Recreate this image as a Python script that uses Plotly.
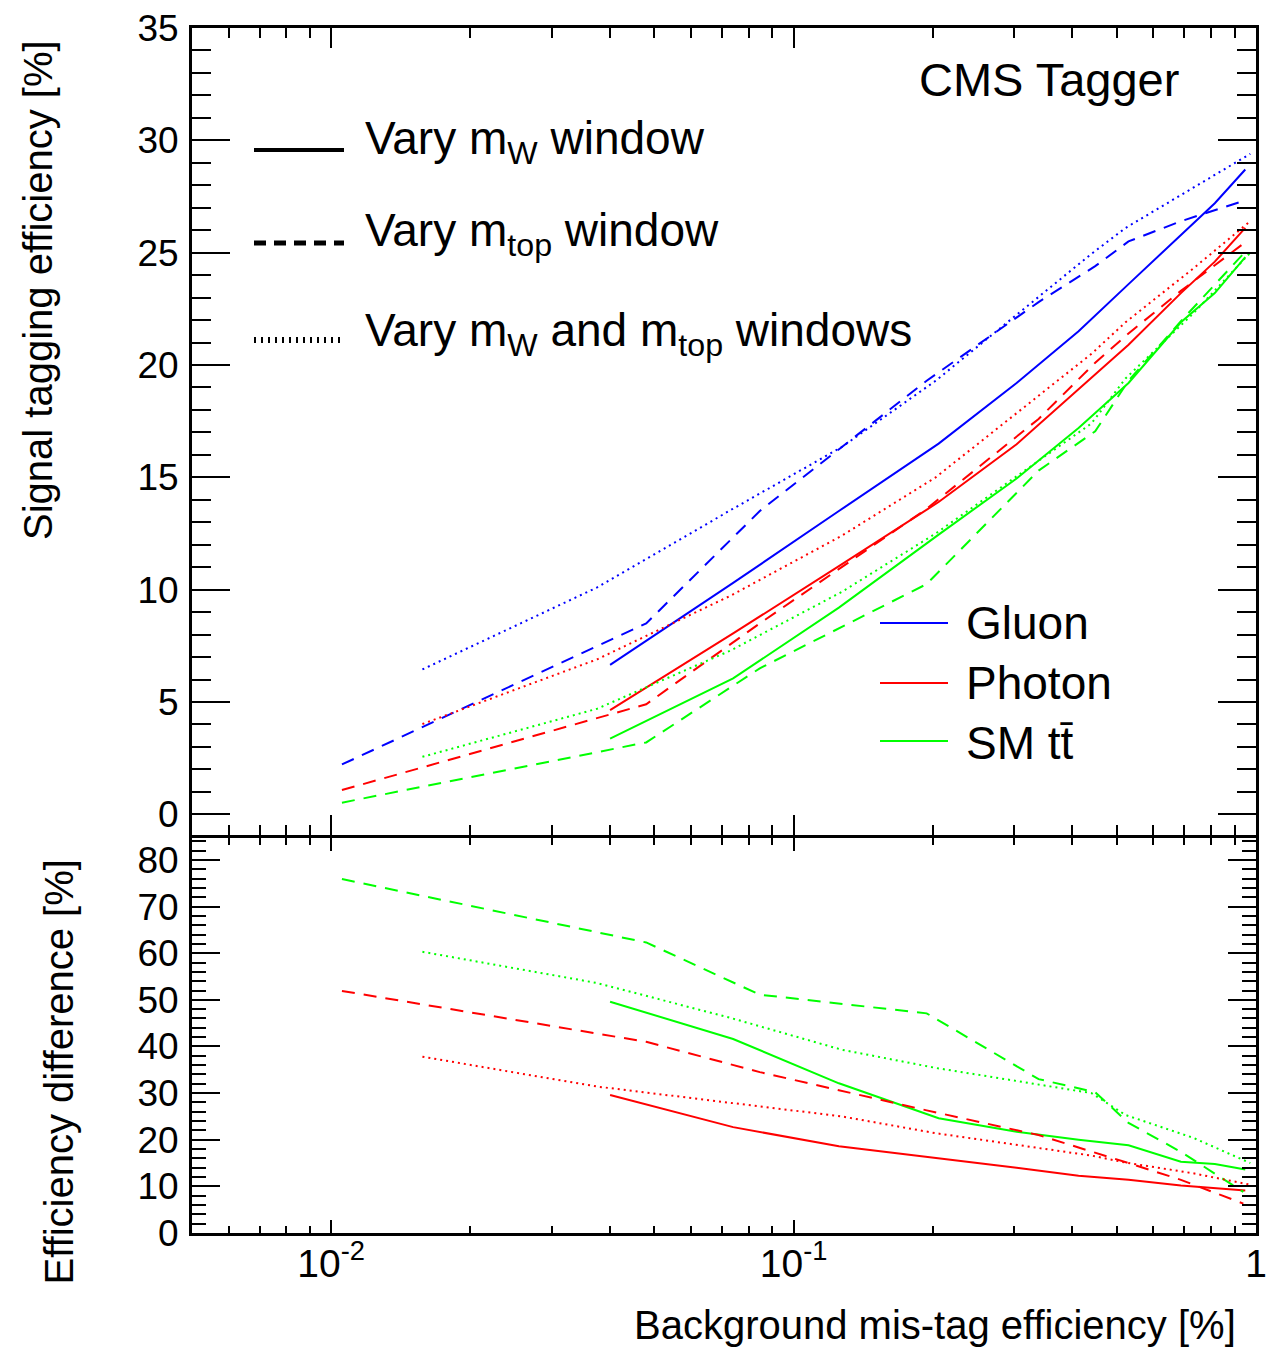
import plotly.graph_objects as go

# ---------------- data ----------------
# Vary m_W window (solid)
x_mw = [0.0401, 0.0740, 0.1253, 0.2059, 0.3036, 0.4133, 0.5301, 0.6880, 0.8146, 0.9480]
gluon_mw = [6.65, 10.3, 13.5, 16.5, 19.2, 21.5, 23.6, 25.8, 27.2, 28.7]
photon_mw = [4.64, 8.05, 11.05, 13.9, 16.47, 18.9, 20.9, 23.2, 24.6, 26.1]
ttbar_mw = [3.37, 6.05, 9.2, 12.45, 14.95, 17.2, 19.2, 21.9, 23.2, 24.8]
diff_photon_mw = [29.6, 22.7, 18.6, 16.1, 14.0, 12.3, 11.4, 10.2, 9.7, 9.1]
diff_ttbar_mw = [49.6, 41.6, 32.1, 24.6, 21.7, 20.0, 18.8, 15.3, 14.8, 13.6]

# Vary m_top window (dashed)
x_mtop = [0.01055, 0.048, 0.0845, 0.194, 0.3387, 0.449, 0.53, 0.688, 0.939]
gluon_mtop = [2.22, 8.5, 13.5, 19.3, 22.8, 24.4, 25.5, 26.4, 27.3]
photon_mtop = [1.08, 4.9, 8.5, 13.6, 17.6, 20.1, 21.4, 23.3, 25.4]
ttbar_mtop = [0.52, 3.2, 6.5, 10.25, 15.3, 17.05, 19.3, 21.95, 24.95]
diff_photon_mtop = [51.9, 41.0, 34.5, 26.3, 21.0, 17.3, 15.0, 11.4, 6.3]
diff_ttbar_mtop = [75.9, 62.3, 51.1, 47.1, 33.0, 30.2, 23.6, 17.4, 8.8]

# Vary m_W and m_top windows (dotted)
x_both = [0.01575, 0.0376, 0.0732, 0.1271, 0.2029, 0.4408, 0.5222, 0.732, 0.972]
gluon_both = [6.45, 10.1, 13.55, 16.35, 19.3, 24.95, 26.1, 27.9, 29.4]
photon_both = [4.02, 6.9, 9.74, 12.4, 15.0, 20.5, 21.9, 24.3, 26.4]
ttbar_both = [2.56, 4.7, 7.3, 9.9, 12.5, 17.4, 19.4, 22.3, 25.0]
diff_photon_both = [37.8, 31.4, 27.9, 25.0, 21.4, 16.6, 15.1, 12.8, 10.35]
diff_ttbar_both = [60.3, 53.6, 46.1, 39.3, 35.4, 30.0, 25.3, 20.4, 15.0]

x_tickvals = [0.01, 0.1, 1]
x_ticktext = ["10<sup>-2</sup>", "10<sup>-1</sup>", "1"]
x_minor = [0.005, 0.006, 0.007, 0.008, 0.009,
           0.02, 0.03, 0.04, 0.05, 0.06, 0.07, 0.08, 0.09,
           0.2, 0.3, 0.4, 0.5, 0.6, 0.7, 0.8, 0.9]

# ---------------- styling ----------------
W, H = 1266, 1347
L, R, T, B = 192, 1256, 28, 1233
SPLIT_TOP = 835     # bottom edge of the upper frame
SPLIT_BOT = 838     # top edge of the lower frame
FONT = "Liberation Sans, Arial, Helvetica, sans-serif"
BLUE, RED, GREEN = "#0000ff", "#ff0000", "#00ff00"
DASH = "13px,9px"
DOT = "2px,4px"
LW = 2


def px(xp):
    return (xp - L) / (R - L)


def py(yp):
    return (B - yp) / (B - T)


fig = go.Figure()


def add(x, y, color, dash, axis):
    fig.add_trace(go.Scatter(x=x, y=y, mode="lines",
                             line=dict(color=color, width=LW, dash=dash),
                             xaxis="x" if axis == 1 else "x2",
                             yaxis="y" if axis == 1 else "y2",
                             showlegend=False, hoverinfo="skip"))


# top panel
add(x_mw, gluon_mw, BLUE, "solid", 1)
add(x_mw, photon_mw, RED, "solid", 1)
add(x_mw, ttbar_mw, GREEN, "solid", 1)
add(x_mtop, gluon_mtop, BLUE, DASH, 1)
add(x_mtop, photon_mtop, RED, DASH, 1)
add(x_mtop, ttbar_mtop, GREEN, DASH, 1)
add(x_both, gluon_both, BLUE, DOT, 1)
add(x_both, photon_both, RED, DOT, 1)
add(x_both, ttbar_both, GREEN, DOT, 1)
# bottom panel
add(x_mw, diff_photon_mw, RED, "solid", 2)
add(x_mw, diff_ttbar_mw, GREEN, "solid", 2)
add(x_mtop, diff_photon_mtop, RED, DASH, 2)
add(x_mtop, diff_ttbar_mtop, GREEN, DASH, 2)
add(x_both, diff_photon_both, RED, DOT, 2)
add(x_both, diff_ttbar_both, GREEN, DOT, 2)

common_x = dict(type="log", range=[-2.30103, 0], showline=True, linewidth=3,
                linecolor="black", mirror="ticks", ticks="inside",
                tickwidth=2, tickcolor="black", showgrid=False, zeroline=False,
                tickmode="array", tickvals=x_tickvals, automargin=False)

common_y = dict(tickmode="linear", tick0=0, ticks="inside", tickwidth=2,
                tickcolor="black", showline=True, linewidth=3,
                linecolor="black", mirror="ticks", showgrid=False,
                zeroline=False, tickfont=dict(size=37, family=FONT),
                ticklabelstandoff=3, automargin=False)

fig.update_layout(
    width=W, height=H, autosize=False,
    paper_bgcolor="white", plot_bgcolor="white",
    margin=dict(l=L, r=W - R, t=T, b=H - B, pad=0, autoexpand=False),
    font=dict(family=FONT, color="black"),
    showlegend=False,
    xaxis=dict(**common_x, anchor="y", matches="x2", showticklabels=False,
               ticklen=20,
               minor=dict(tickmode="array", tickvals=x_minor, ticks="inside",
                          ticklen=10, tickwidth=2, tickcolor="black")),
    xaxis2=dict(**common_x, anchor="y2", ticktext=x_ticktext, ticklen=13,
                tickfont=dict(size=39, family=FONT), ticklabelstandoff=-6,
                ticklabeloverflow="allow",
                minor=dict(tickmode="array", tickvals=x_minor, ticks="inside",
                           ticklen=7, tickwidth=2, tickcolor="black")),
    yaxis=dict(**common_y, domain=[py(SPLIT_TOP), 1], anchor="x",
               range=[-0.92, 35], dtick=5, ticklen=38,
               minor=dict(dtick=1, ticks="inside", ticklen=19, tickwidth=2,
                          tickcolor="black")),
    yaxis2=dict(**common_y, domain=[0, py(SPLIT_BOT)], anchor="x2",
                range=[0, 84.7], dtick=10, ticklen=28,
                minor=dict(dtick=2, ticks="inside", ticklen=14, tickwidth=2,
                           tickcolor="black")),
)

ann = []
shapes = []


def text(s, xp, yp, size, xanchor="left", yanchor="middle", angle=0):
    ann.append(dict(text=s, x=px(xp), y=py(yp), xref="paper", yref="paper",
                    xanchor=xanchor, yanchor=yanchor, showarrow=False,
                    textangle=angle, font=dict(size=size, family=FONT,
                                               color="black")))


def sample(x0, x1, yp, color, dash, width):
    shapes.append(dict(type="line", xref="paper", yref="paper",
                       x0=px(x0), x1=px(x1), y0=py(yp), y1=py(yp),
                       line=dict(color=color, dash=dash, width=width)))


# axis titles
text("Signal tagging efficiency [%]", 38, 38, 40, "center", "top", -90)
text("Efficiency difference [%]", 58, 858, 40, "center", "top", -90)
text("Background mis-tag efficiency [%]", 1238, 1325, 40, "right", "middle")

# label
text("CMS Tagger", 917, 80, 47)

# line-style legend
sample(254, 344, 150, "black", "solid", 4)
sample(254, 344, 243, "black", "12px,8px", 5)
sample(254, 344, 340, "black", "2px,5px", 6)
text("Vary m<sub>W</sub> window", 363, 141, 46)
text("Vary m<sub>top</sub> window", 363, 234, 46)
text("Vary m<sub>W</sub> and m<sub>top</sub> windows", 363, 333, 46)

# colour legend
sample(880, 948, 623, BLUE, "solid", 2)
sample(880, 948, 683, RED, "solid", 2)
sample(880, 948, 741, GREEN, "solid", 2)
text("Gluon", 964, 623, 46)
text("Photon", 964, 683, 46)
text("SM tt\u0304", 964, 743, 46)

fig.update_layout(annotations=ann, shapes=shapes)
fig.write_html("out.html",
               config={"displayModeBar": False},
               post_script="document.body.style.margin='0';"
                           "document.body.style.overflow='hidden';")
